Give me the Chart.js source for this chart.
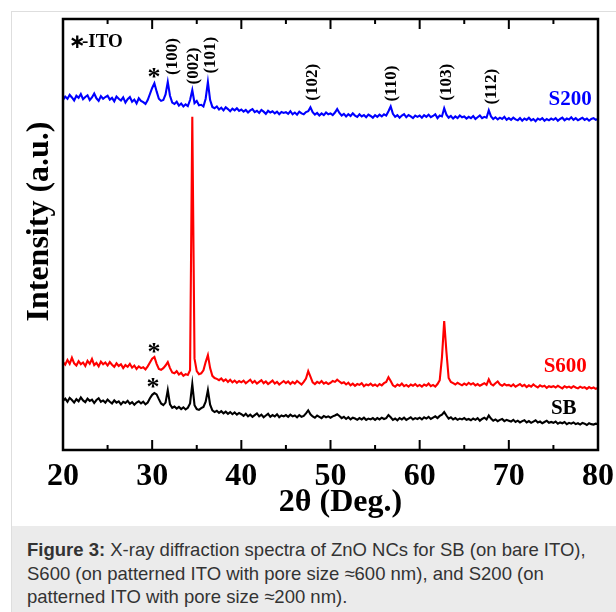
<!DOCTYPE html>
<html>
<head>
<meta charset="utf-8">
<script src="https://cdn.jsdelivr.net/npm/chart.js@4"></script>
<style>
  html, body { margin: 0; padding: 0; background: #fff; }
  body { width: 616px; height: 612px; position: relative; overflow: hidden; }
  #panel { position: absolute; left: 11px; top: 11px; right: 0; bottom: 0; border-left: 1px solid #dedede; border-top: 1px solid #dedede; }
  #plot { position: absolute; left: 12px; top: 12px; width: 604px; height: 514px; }
  #caption {
    position: absolute; left: 12px; top: 526px; width: 589px; height: 74px;
    background: #ebebeb; padding: 12px 0 0 15px;
    font: 18.5px/23.5px "Liberation Sans", Arial, sans-serif; color: #333;
    white-space: nowrap;
  }
</style>
</head>
<body>
<div id="panel"></div>
<div id="plot"><canvas id="xrd" width="604" height="514"></canvas></div>
<div id="caption"><b>Figure 3:</b> X-ray diffraction spectra of ZnO NCs for SB (on bare ITO),<br>S600 (on patterned ITO with pore size ≈600 nm), and S200 (on<br>patterned ITO with pore size ≈200 nm).</div>
<script>
// XRD of ZnO NCs — three offset traces, intensity in a.u., sampled every 0.25 deg.

const twoThetaStart = 20;
const twoThetaStep = 0.25;

// S200 (blue, top trace)
const s200 = [
  812, 820, 815, 824, 818, 811, 822, 817, 826, 814, 819, 823, 812, 818, 827, 816, 810, 821, 815, 819,
  822, 813, 817, 809, 820, 815, 811, 818, 806, 814, 819, 808, 813, 804, 816, 810, 807, 803, 812, 826,
  840, 851, 832, 815, 810, 812, 825, 854, 822, 806, 803, 808, 799, 804, 797, 802, 798, 812, 835, 805,
  810, 800, 801, 797, 815, 854, 812, 796, 793, 797, 790, 794, 788, 795, 791, 786, 792, 788, 793, 787,
  790, 785, 789, 783, 788, 791, 784, 787, 782, 789, 785, 780, 787, 783, 786, 781, 785, 779, 784, 782,
  784, 780, 786, 779, 783, 778, 785, 781, 779, 784, 786, 795, 784, 778, 782, 776, 781, 777, 783, 779,
  781, 777, 783, 791, 782, 776, 780, 774, 779, 775, 781, 776, 773, 779, 774, 777, 772, 778, 775, 771,
  777, 773, 778, 774, 779, 776, 786, 797, 780, 773, 777, 771, 776, 779, 772, 777, 774, 770, 776, 773,
  776, 771, 777, 773, 778, 772, 775, 779, 770, 776, 774, 793, 778, 771, 775, 769, 774, 770, 776, 772,
  774, 769, 773, 770, 775, 768, 772, 776, 770, 773, 771, 788, 774, 768, 772, 767, 771, 768, 773, 766,
  770, 766, 771, 767, 765, 770, 764, 769, 766, 771, 765, 768, 763, 769, 766, 770, 764, 768, 765, 769,
  766, 770, 764, 768, 771, 765, 769, 767, 772, 766, 770, 765, 768, 771, 766, 769, 764, 768, 770, 766, 768
];

// S600 (red, middle trace)
const s600 = [
  204, 198, 209, 200, 214, 201, 196, 206, 199, 203, 195, 207, 200, 211, 197, 202, 194, 205, 199, 203,
  196, 204, 198, 193, 201, 195, 199, 190, 197, 193, 200, 191, 196, 188, 194, 190, 192, 187, 194, 203,
  212, 216, 200, 188, 186, 190, 196, 204, 190, 180, 178, 183, 175, 179, 172, 176, 174, 185, 773, 212,
  183, 176, 178, 185, 204, 220, 190, 172, 167, 165, 162, 166, 160, 164, 158, 163, 157, 161, 156, 160,
  157, 161, 155, 159, 163, 156, 160, 154, 158, 162, 155, 159, 153, 157, 161, 154, 158, 152, 156, 160,
  155, 159, 153, 158, 154, 160, 156, 152, 158, 166, 183, 170, 157, 153, 158, 155, 160, 154, 157, 153,
  156, 160, 158, 163, 159, 155, 157, 152, 156, 150, 154, 149, 153, 151, 155, 148, 152, 150, 154, 149,
  152, 148, 153, 150, 155, 158, 169, 160, 150, 147, 152, 149, 154, 148, 151, 147, 152, 149, 153, 148,
  151, 147, 152, 149, 154, 148, 151, 147, 153, 162, 215, 299, 228, 167, 158, 155, 152, 156, 153, 150,
  154, 151, 156, 152, 155, 150, 153, 149, 152, 155, 151, 164, 153, 150, 155, 159, 152, 149, 153, 150,
  151, 148, 152, 147, 150, 153, 148, 151, 146, 150, 147, 152, 148, 145, 150, 147, 149, 144, 148, 146,
  148, 145, 149, 146, 143, 148, 145, 147, 144, 148, 145, 143, 147, 144, 146, 142, 146, 143, 145, 142, 144
];

// SB (black, bottom trace)
const sb = [
  114, 119, 112, 121, 116, 110, 118, 113, 122, 115, 111, 119, 114, 117, 109, 116, 120, 112, 115, 110,
  117, 112, 108, 115, 110, 113, 106, 112, 109, 114, 107, 111, 105, 110, 113, 108, 112, 106, 110, 120,
  128, 132, 129, 118, 108, 104, 110, 139, 106, 98, 101, 96, 100, 95, 99, 94, 98, 108, 153, 104,
  95, 93, 97, 100, 112, 139, 105, 92, 88, 91, 86, 90, 85, 89, 84, 88, 83, 87, 82, 86,
  83, 79, 84, 78, 82, 77, 81, 85, 78, 82, 76, 80, 84, 77, 81, 78, 83, 76, 80, 78,
  81, 77, 82, 78, 80, 76, 81, 77, 79, 85, 92, 83, 78, 75, 80, 77, 74, 79, 76, 78,
  75, 78, 80, 83, 79, 74, 77, 72, 76, 71, 75, 73, 70, 74, 71, 75, 70, 73, 71, 74,
  70, 74, 71, 75, 72, 74, 81, 76, 70, 73, 69, 74, 71, 75, 70, 73, 76, 71, 74, 72,
  75, 71, 76, 73, 77, 72, 75, 78, 74, 79, 82, 88, 80, 73, 76, 71, 74, 70, 73, 71,
  74, 70, 72, 69, 73, 70, 74, 68, 72, 75, 71, 80, 73, 68, 71, 67, 70, 72, 67, 70,
  68, 66, 70, 65, 68, 64, 67, 69, 64, 67, 63, 66, 69, 64, 66, 62, 65, 68, 63, 65,
  63, 66, 61, 64, 62, 65, 60, 63, 61, 64, 60, 62, 59, 63, 61, 58, 62, 60, 59, 61, 60
];

const seriesNames = ['S200', 'S600', 'SB'];
const seriesColors = ['#0000ff', '#ff0000', '#000000'];
const seriesData = [s200, s600, sb];

// Miller indices written above the S200 peaks
const peakLabels = ['(100)', '(002)', '(101)', '(102)', '(110)', '(103)', '(112)'];
const peakLabelAngles = [32.3, 34.6, 36.5, 48.0, 56.9, 63.05, 68.1];
const peakLabelLevels = [913, 891, 916, 853, 850, 853, 843];

// ITO reflection markers (*) and trace names
const itoMarkAngles = [30.2, 30.2, 30.1];
const itoMarkLevels = [875, 237, 155];
const nameAngles = [79.3, 78.75, 77.6];
const nameLevels = [812, 193, 97];

const serif = '"Liberation Serif", "Times New Roman", serif';
const angles = s200.map((_, i) => twoThetaStart + i * twoThetaStep);

const annotate = {
  id: 'annotate',
  afterDatasetsDraw(chart) {
    const { ctx, chartArea: a, scales: { x, y } } = chart;
    ctx.save();
    // box frame with inward ticks on top and bottom
    ctx.strokeStyle = '#000';
    ctx.lineWidth = 2.5;
    ctx.strokeRect(a.left, a.top, a.right - a.left, a.bottom - a.top);
    ctx.lineWidth = 2;
    x.ticks.forEach(t => {
      [[t.value, 10], [t.value + 5, 5]].forEach(([v, len]) => {
        if (v > x.max) return;
        const px = x.getPixelForValue(v);
        ctx.beginPath();
        ctx.moveTo(px, a.bottom); ctx.lineTo(px, a.bottom - len);
        ctx.moveTo(px, a.top); ctx.lineTo(px, a.top + len);
        ctx.stroke();
      });
    });

    ctx.fillStyle = '#000';
    ctx.textBaseline = 'middle';

    // axis titles
    ctx.font = 'bold 32px ' + serif;
    ctx.textAlign = 'center';
    ctx.fillText('2θ (Deg.)', (a.left + a.right) / 2 + 10, a.bottom + 53);
    ctx.save();
    ctx.translate(a.left - 23, (a.top + a.bottom) / 2 - 13);
    ctx.rotate(-Math.PI / 2);
    ctx.fillText('Intensity (a.u.)', 0, 0);
    ctx.restore();

    ctx.textAlign = 'left';
    ctx.font = 'bold 20px "DejaVu Sans", sans-serif';
    ctx.fillText('∗', a.left + 6, a.top + 24);
    ctx.font = 'bold 19px ' + serif;
    ctx.fillText('-ITO', a.left + 19, a.top + 23);

    ctx.font = 'bold 26px ' + serif;
    ctx.textAlign = 'center';
    itoMarkAngles.forEach((v, i) => {
      ctx.fillText('*', x.getPixelForValue(v), y.getPixelForValue(itoMarkLevels[i]) + 5);
    });

    ctx.font = 'bold 17px ' + serif;
    peakLabels.forEach((txt, i) => {
      ctx.save();
      ctx.translate(x.getPixelForValue(peakLabelAngles[i]), y.getPixelForValue(peakLabelLevels[i]));
      ctx.rotate(-Math.PI / 2);
      ctx.fillText(txt, 0, 0);
      ctx.restore();
    });

    ctx.font = 'bold 21px ' + serif;
    ctx.textAlign = 'right';
    seriesNames.forEach((name, i) => {
      ctx.fillStyle = seriesColors[i];
      ctx.fillText(name, x.getPixelForValue(nameAngles[i]), y.getPixelForValue(nameLevels[i]));
    });
    ctx.restore();
  }
};

new Chart(document.getElementById('xrd'), {
  type: 'line',
  data: {
    datasets: seriesData.map((vals, i) => ({
      label: seriesNames[i],
      data: vals.map((v, j) => ({ x: angles[j], y: v })),
      borderColor: seriesColors[i],
      borderWidth: 2.1,
      pointRadius: 0,
      tension: 0,
      fill: false,
    })),
  },
  options: {
    responsive: false,
    animation: false,
    events: [],
    layout: { padding: { top: 7, right: 18, left: 0, bottom: 0 } },
    plugins: { legend: { display: false }, tooltip: { enabled: false } },
    scales: {
      x: {
        type: 'linear', min: 20, max: 80,
        grid: { display: false, drawTicks: false },
        border: { display: false },
        ticks: { stepSize: 10, padding: 8, color: '#000', font: { family: serif, size: 32, weight: 'bold' }, maxRotation: 0 },
        afterFit: s => { s.height = 76; s.paddingLeft = 0; s.paddingRight = 0; },
      },
      y: {
        min: 0, max: 1000,
        grid: { display: false, drawTicks: false },
        border: { display: false },
        ticks: { display: false },
        afterFit: s => { s.width = 51; },
      },
    },
  },
  plugins: [annotate],
});
</script>
</body>
</html>
